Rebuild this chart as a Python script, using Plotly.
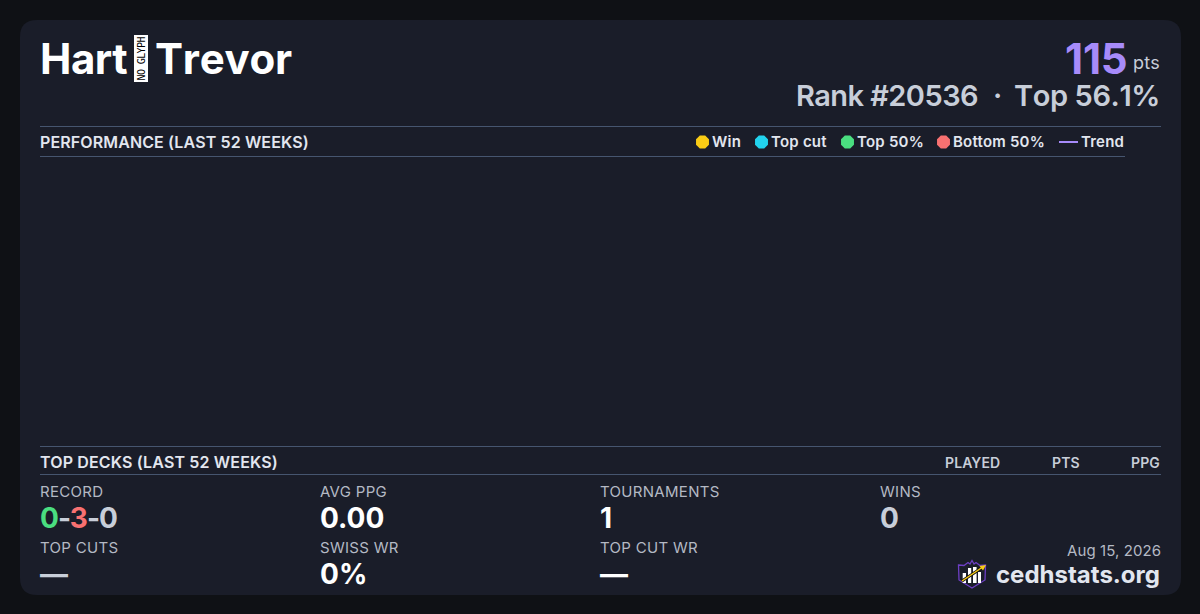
import plotly.graph_objects as go

player_first = "Hart"
player_second = "Trevor"
missing_glyph = "NO GLYPH"
points = "115"
rank = "Rank #20536"
top_pct = "Top 56.1%"
perf_title = "PERFORMANCE (LAST 52 WEEKS)"
decks_title = "TOP DECKS (LAST 52 WEEKS)"
legend_labels = ["Win", "Top cut", "Top 50%", "Bottom 50%"]
legend_colors = ["#facc15", "#22d3ee", "#4ade80", "#f87171"]
deck_columns = ["PLAYED", "PTS", "PPG"]
wins, losses, draws = 0, 3, 0
stat_labels = ["AVG PPG", "TOURNAMENTS", "WINS", "TOP CUTS", "SWISS WR", "TOP CUT WR"]
stat_values = ["0.00", "1", "0", "—", "0%", "—"]
date_label = "Aug 15, 2026"
site = "cedhstats.org"

BG, CARD, RULE = "#0f1115", "#1a1d29", "#46556f"
WHITE, LIGHT, MID, MUTED = "#ffffff", "#e2e6ef", "#c8ced9", "#b4b9c4"
PURPLE = "#a78bfa"
FONT = "Inter"

anns, shapes = [], []

def T(x, y, text, size, color, weight=400, xanchor="left", angle=0, ls=None, extra=""):
    style = extra
    if ls is not None:
        style += f"letter-spacing:{ls}px;"
    if style:
        text = f'<span style="{style}">{text}</span>'
    anns.append(dict(x=x, y=y, xref="x", yref="y", text=text, showarrow=False,
                     xanchor=xanchor, yanchor="middle", textangle=angle, borderpad=0, borderwidth=0,
                     font=dict(family=FONT, size=size, color=color, weight=weight)))

def L(x0, y0, x1, y1, color=RULE, w=1):
    shapes.append(dict(type="line", x0=x0, y0=y0, x1=x1, y1=y1, xref="x", yref="y",
                       line=dict(color=color, width=w)))

def P(path, fill=None, line=None, w=1, layer="above"):
    shapes.append(dict(type="path", path=path, xref="x", yref="y", fillcolor=fill or "rgba(0,0,0,0)",
                       layer=layer, line=dict(color=line or "rgba(0,0,0,0)", width=w if line else 0)))

# card
x0, y0, x1, y1, r = 20, 20, 1181, 595, 17
P(f"M{x0+r},{y0} L{x1-r},{y0} Q{x1},{y0} {x1},{y0+r} L{x1},{y1-r} Q{x1},{y1} {x1-r},{y1} "
  f"L{x0+r},{y1} Q{x0},{y1} {x0},{y1-r} L{x0},{y0+r} Q{x0},{y0} {x0+r},{y0} Z", fill=CARD, layer="below")

# header
T(40, 58, player_first, 42, WHITE, 700, ls=-0.5)
P("M134,35 L148,35 L148,82 L134,82 Z", fill=WHITE)
T(141, 58.5, missing_glyph, 10, "#000000", 400, "center", -90, ls=-0.6)
anns[-1]["font"]["family"] = "DejaVu Sans Mono"
T(155, 58, player_second, 42, WHITE, 700, ls=-0.2, extra="font-kerning:none;")
T(1126.5, 58, points, 42, PURPLE, 700, "right", ls=-0.2)
T(1160, 62, "pts", 18, MID, 400, "right", ls=0.3)
T(978, 95.5, rank, 29, MID, 600, "right", ls=-0.55)
T(997, 95.5, "·", 29, MID, 600, "center")
T(1160, 95.5, top_pct, 29, MID, 600, "right", ls=-0.4, extra="font-kerning:none;")

# section rules and titles
L(40, 126.5, 1161, 126.5)
L(40, 156.5, 1125, 156.5)
T(40, 142, perf_title, 16, LIGHT, 600, ls=0.12)
L(40, 446.5, 1161, 446.5)
L(40, 474.5, 1161, 474.5)
T(40, 462, decks_title, 16, LIGHT, 600, ls=0.15)
for label, x in zip(deck_columns, [1000, 1080, 1160]):
    T(x, 462, label, 14, MID, 600, "right", ls=0.1)

# legend
leg_dot_x = [702.5, 761.5, 847.5, 943.5]
leg_text_x = [712, 771, 857, 953]
for label, x in zip(legend_labels, leg_text_x):
    T(x, 141.5, label, 15, LIGHT, 600, ls=0.22)
L(1059, 142, 1078, 142, PURPLE, 2)
T(1081, 141.5, "Trend", 15, LIGHT, 600, ls=0.22)

# stats
T(40, 491.5, "RECORD", 15, MUTED, ls=0.3)
T(40, 518,
  f'<span style="color:#4ade80">{wins}</span>-<span style="color:#f87171">{losses}</span>-'
  f'<span style="color:{MID}">{draws}</span>', 28, MID, 700, ls=-1)
pos_label = [(320, 491.5), (600, 491.5), (880, 491.5), (40, 547.5), (320, 547.5), (600, 547.5)]
pos_value = [(320, 518), (600, 518), (880, 518), (40, 574), (320, 574), (600, 574)]
val_colors = [WHITE, WHITE, MID, MID, WHITE, WHITE]
for lab, p in zip(stat_labels, pos_label):
    T(p[0], p[1], lab, 15, MUTED, ls=0.3)
for val, p, c in zip(stat_values, pos_value, val_colors):
    T(p[0], p[1], val, 28, c, 700)

# footer
T(1160.5, 550, date_label, 15, MUTED, 400, "right", ls=0.1)
T(1160, 574, site, 24, LIGHT, 700, "right")

# logo
P("M958.5,565 L964,565.5 L968,562.5 L970,564 L972,560.5 L974,564 L976,562.5 L980,565.5 L985.5,565 "
  "L985,580 L972,588 L959,580 Z", line="#6d3fc4", w=1.3)
for bx, by, bw in [(962.7, 573, 3.3), (968, 568, 3.2), (973, 567, 3.6), (978, 572, 3)]:
    P(f"M{bx},{by} L{bx+bw},{by} L{bx+bw},{583} L{bx},{583} Z", fill=WHITE)
L(962, 581, 983, 567, "#111111", 3)
L(962, 581, 982, 567.5, "#facc15", 1.5)
P("M986,565 L979.5,566 L983,570.5 Z", fill="#facc15")

fig = go.Figure()
fig.add_trace(go.Scatter(
    x=leg_dot_x, y=[142] * len(leg_dot_x), mode="markers", hoverinfo="skip", showlegend=False,
    marker=dict(size=14, color=legend_colors, symbol="octagon", line=dict(width=0))))
fig.update_layout(
    width=1200, height=614, margin=dict(l=0, r=0, t=0, b=0),
    paper_bgcolor=BG, plot_bgcolor=BG, showlegend=False,
    xaxis=dict(range=[0, 1200], visible=False, fixedrange=True),
    yaxis=dict(range=[614, 0], visible=False, fixedrange=True),
    annotations=anns, shapes=shapes,
    font=dict(family=FONT),
)
fig.write_html("out.html", config={"displayModeBar": False},
               post_script="document.body.style.margin='0';document.body.style.overflow='hidden';")
